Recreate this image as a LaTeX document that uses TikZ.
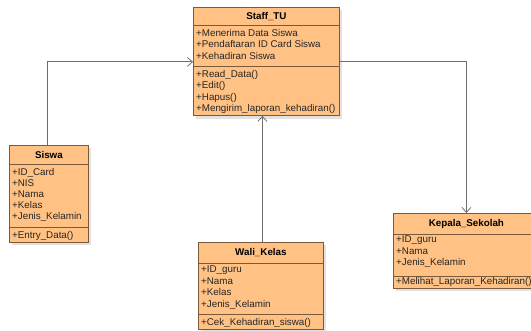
\documentclass[tikz,border=0pt]{standalone}
\usepackage{fontspec}
\setmainfont{Liberation Sans}
\usetikzlibrary{arrows.meta}
\definecolor{boxfill}{HTML}{FFC184}
\definecolor{boxline}{HTML}{7A5A3A}
\definecolor{wire}{HTML}{6E6E6E}
\definecolor{shade}{HTML}{E2E2E2}
\tikzset{
  part/.style={draw=boxline, fill=boxfill, line width=0.8pt, anchor=north west, inner sep=0pt},
  titlepart/.style={part, font=\bfseries\fontsize{9.8}{11.6}\selectfont},
  lines/.style={anchor=north west, align=left, inner sep=0pt, font=\fontsize{9.8}{11.4}\selectfont, text=black!85},
  conn/.style={draw=wire, line width=0.8pt, -{Straight Barb[length=5pt,width=9pt]}},
  shadow/.style={fill=shade, draw=none}
}
\begin{document}
\begin{tikzpicture}[x=1pt,y=-1pt]
\useasboundingbox (0,0) rectangle (531,331);
% shadows
\fill[shadow] (196,10) rectangle (342,119);
\fill[shadow] (12,148) rectangle (91,245);
\fill[shadow] (201,245) rectangle (326,332);
\fill[shadow] (396,216) rectangle (542,291);
% Staff_TU
\node[titlepart, minimum width=146pt, minimum height=18pt] (staff-t) at (193,7) {Staff\_TU};
\node[part, minimum width=146pt, minimum height=41pt] (staff-a) at (193,25) {};
\node[part, minimum width=146pt, minimum height=49pt] (staff-o) at (193,66) {};
\node[lines] (staff-al) at (196,29) {+Menerima Data Siswa\\+Pendaftaran ID Card Siswa\\+Kehadiran Siswa};
\node[lines] (staff-ol) at (196,70) {+Read\_Data()\\+Edit()\\+Hapus()\\+Mengirim\_laporan\_kehadiran()};
% Siswa
\node[titlepart, minimum width=79pt, minimum height=19pt] (siswa-t) at (9,145) {Siswa};
\node[part, minimum width=79pt, minimum height=63pt] (siswa-a) at (9,164) {};
\node[part, minimum width=79pt, minimum height=15pt] (siswa-o) at (9,227) {};
\node[lines, font=\fontsize{9.8}{11}\selectfont] (siswa-al) at (12,168.5) {+ID\_Card\\+NIS\\+Nama\\+Kelas\\+Jenis\_Kelamin};
\node[lines] (siswa-ol) at (12,231) {+Entry\_Data()};
% Wali_Kelas
\node[titlepart, minimum width=125pt, minimum height=21pt] (wali-t) at (198,242) {Wali\_Kelas};
\node[part, minimum width=125pt, minimum height=51pt] (wali-a) at (198,263) {};
\node[part, minimum width=125pt, minimum height=15pt] (wali-o) at (198,314) {};
\node[lines] (wali-al) at (201,266) {+ID\_guru\\+Nama\\+Kelas\\+Jenis\_Kelamin};
\node[lines] (wali-ol) at (201,318) {+Cek\_Kehadiran\_siswa()};
% Kepala_Sekolah
\node[titlepart, minimum width=146pt, minimum height=21pt] (kepala-t) at (393,213) {Kepala\_Sekolah};
\node[part, minimum width=146pt, minimum height=42pt] (kepala-a) at (393,234) {};
\node[part, minimum width=146pt, minimum height=12pt] (kepala-o) at (393,276) {};
\node[lines] (kepala-al) at (396,236) {+ID\_guru\\+Nama\\+Jenis\_Kelamin};
\node[lines] (kepala-ol) at (396,277.5) {+Melihat\_Laporan\_Kehadiran()};
% connectors
\coordinate (siswa-up) at ([xshift=-1.5pt]siswa-t.north);
\coordinate (staff-in) at ([yshift=-16pt]staff-a.west);
\coordinate (staff-out) at ([yshift=-16pt]staff-a.east);
\coordinate (wali-up) at ([xshift=1.5pt]wali-t.north);
\draw[conn] (siswa-up) |- (staff-in);
\draw[conn] (staff-out) -| (kepala-t.north);
\draw[conn] (wali-up) -- (wali-up |- staff-o.south);
\end{tikzpicture}
\end{document}
